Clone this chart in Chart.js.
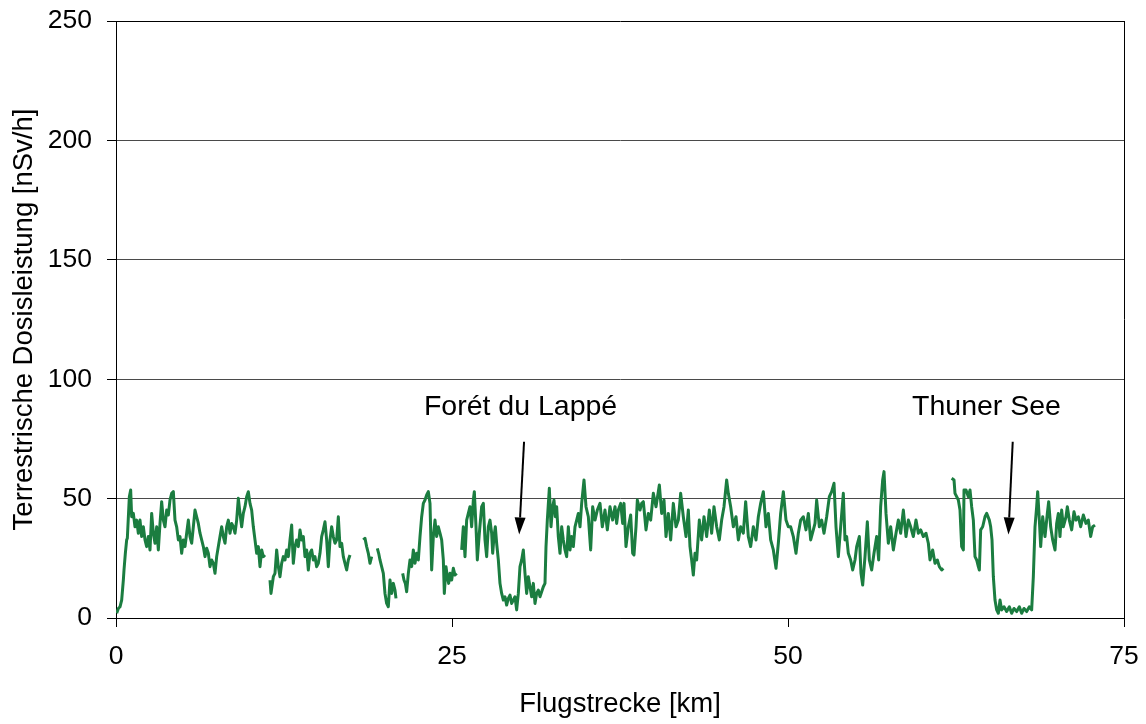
<!DOCTYPE html>
<html>
<head>
<meta charset="utf-8">
<script src="https://cdn.jsdelivr.net/npm/chart.js@4/dist/chart.umd.min.js"></script>
<style>
html,body{margin:0;padding:0;background:#fff;}
#wrap{width:1146px;height:724px;}
</style>
</head>
<body>
<div id="wrap"><canvas id="c" width="1146" height="724"></canvas></div>
<script>
// Flight distance [km] and terrestrial dose rate [nSv/h]; null = gap in the record
const km = [
0.05,0.174,0.298,0.422,0.546,0.596,0.695,0.794,0.844,0.993,1.092,1.166,1.290,1.414,1.538,1.662,1.786,1.910,2.034,2.158,2.282,2.406,2.530,2.654,2.778,2.902,3.026,3.150,3.274,3.398,3.522,3.646,3.770,3.894,4.018,4.142,4.266,4.390,4.514,4.638,4.762,4.886,5.010,5.134,5.258,5.382,5.506,5.630,5.754,5.878,6.002,6.126,6.250,6.374,6.498,6.622,6.746,6.870,6.994,7.118,7.242,7.366,7.490,7.614,7.738,7.862,7.986,8.110,8.234,8.358,8.482,8.606,8.730,8.854,8.978,9.102,9.226,9.350,9.474,9.598,9.722,9.846,9.970,10.094,10.218,10.342,10.466,10.590,10.714,10.838,10.962,11.086,
11.27,
11.459,11.533,11.707,11.830,11.954,12.078,12.202,12.326,12.450,12.574,12.698,12.822,12.946,13.070,13.194,13.318,13.442,13.566,13.690,13.814,13.938,14.062,14.186,14.310,14.434,14.558,14.682,14.806,14.930,15.054,15.178,15.302,15.426,15.550,15.674,15.798,15.922,16.046,16.170,16.294,16.418,16.542,16.666,16.790,16.914,17.038,17.162,17.286,17.410,
17.9,
18.402,18.526,18.650,18.774,18.898,19.022,
19.23,
19.444,19.543,19.642,19.766,19.890,20.014,20.138,20.262,20.386,20.510,20.634,20.758,20.833,
21.08,
21.329,21.428,21.527,21.627,21.751,21.875,21.999,22.123,22.247,22.371,22.495,22.619,22.743,22.867,22.991,23.115,23.239,23.363,23.487,23.611,23.735,23.859,23.983,24.107,24.231,24.355,24.429,24.553,24.653,24.752,24.851,24.975,25.099,25.223,25.347,
25.53,
25.719,25.843,25.967,26.091,26.215,26.339,26.463,26.587,26.662,26.786,26.885,27.034,27.207,27.331,27.455,27.579,27.703,27.827,27.951,28.026,28.125,28.224,28.323,28.447,28.571,28.695,28.819,28.943,29.067,29.191,29.315,29.439,29.563,29.687,29.811,29.935,30.059,30.183,30.307,30.431,30.555,30.679,30.803,30.927,31.051,31.175,31.299,31.423,31.547,31.671,31.795,31.919,31.994,32.093,32.242,32.366,32.490,32.589,32.688,32.788,32.911,33.036,33.160,33.284,33.407,33.532,33.656,33.780,33.904,34.028,34.152,34.276,34.400,34.524,34.648,34.821,34.970,35.144,35.317,35.466,35.640,35.813,36.012,36.185,36.384,36.557,36.756,36.954,37.128,37.252,37.376,37.550,37.698,37.798,37.946,38.120,38.294,38.442,38.542,38.690,38.790,38.988,39.112,39.236,39.435,39.608,39.782,39.980,40.179,40.427,40.600,40.774,40.923,41.096,41.270,41.468,41.667,41.840,42.014,42.212,42.411,42.584,42.708,42.832,42.956,43.080,43.204,43.403,43.576,43.750,43.948,44.147,44.320,44.494,44.692,44.891,45.064,45.238,45.436,45.560,45.734,45.933,46.131,46.305,46.478,46.676,46.850,47.048,47.222,47.421,47.619,47.793,47.966,48.165,48.363,48.537,48.710,48.909,49.107,49.281,49.454,49.653,49.851,50.025,50.199,50.397,50.595,50.769,50.943,51.141,51.339,51.513,51.687,51.885,52.009,52.133,52.332,52.505,52.679,52.877,53.076,53.249,53.423,53.572,53.745,53.919,54.117,54.241,54.365,54.489,54.663,54.812,54.985,55.109,55.308,55.432,55.556,55.729,55.903,56.052,56.225,56.399,56.597,56.746,56.895,57.044,57.143,57.292,57.466,57.639,57.838,58.036,58.210,58.383,58.582,58.780,58.954,59.127,59.326,59.524,59.698,59.871,60.070,60.268,60.442,60.566,60.764,60.938,61.111,61.260,61.434,61.558,
61.87,
62.178,62.352,62.426,62.550,62.674,62.798,62.922,63.046,63.096,63.244,63.418,63.542,63.666,63.790,63.914,64.038,64.162,64.237,64.336,64.485,64.658,64.782,64.981,65.080,65.179,65.278,65.402,65.526,65.650,65.774,65.898,66.072,66.270,66.469,66.642,66.816,67.014,67.213,67.386,67.560,67.758,67.957,68.130,68.254,68.378,68.502,68.577,68.701,68.800,68.949,69.122,69.296,69.395,69.544,69.693,69.867,69.990,70.115,70.238,70.363,70.486,70.685,70.784,70.933,71.107,71.280,71.429,71.603,71.776,71.974,72.173,72.346,72.520,72.669,72.842
];
const dose = [
2.0,4.0,4.7,7.5,15.9,20.1,27.1,32.7,33.4,50.8,53.6,42.4,43.8,38.2,41.0,35.5,41.0,34.1,38.2,32.7,29.9,34.1,28.5,43.8,35.5,31.3,38.2,28.5,39.6,48.7,41.0,38.2,45.2,43.1,49.4,52.2,52.9,41.0,38.2,32.7,34.1,27.1,32.7,29.9,35.5,41.0,34.1,31.3,38.2,45.2,42.4,39.6,35.5,32.7,29.9,25.7,29.2,27.1,21.5,24.3,22.9,18.7,25.7,29.9,34.1,38.2,34.1,31.3,38.2,41.0,35.5,39.6,38.2,35.5,41.0,50.1,43.8,38.2,43.8,46.6,50.8,52.9,48.0,45.2,38.2,32.7,27.1,29.9,21.5,28.5,25.7,26.4,
null,
15.9,10.3,17.3,18.7,28.5,21.5,17.3,22.9,25.7,24.3,28.5,25.7,32.7,38.9,22.9,29.9,32.7,29.9,36.9,32.7,34.1,25.7,28.5,20.1,27.1,28.5,24.3,25.7,21.5,22.9,27.1,34.1,36.9,40.3,32.7,21.5,32.7,38.2,34.1,31.3,32.7,42.4,29.9,31.3,25.7,22.9,20.1,24.3,26.4,
null,
32.7,33.4,29.9,27.1,22.9,25.7,
null,
29.2,27.1,24.3,21.5,18.7,10.3,6.1,4.7,15.9,10.3,14.5,11.7,8.2,
null,
18.7,15.9,14.5,11.0,18.7,24.3,21.5,28.5,22.9,27.1,24.3,34.1,42.4,48.0,49.4,51.5,52.9,48.0,20.1,34.1,41.0,34.1,38.2,35.5,32.7,24.3,10.3,21.5,17.3,14.5,18.7,15.9,20.8,18.0,18.7,
null,
28.5,38.2,25.7,41.0,43.8,46.6,38.2,49.4,52.9,38.2,24.3,35.5,46.6,48.0,32.7,25.7,38.2,41.0,35.5,27.1,34.1,38.2,31.3,24.3,14.5,10.3,7.5,8.9,5.4,8.2,9.6,6.1,7.5,8.9,3.4,10.3,21.5,24.3,28.5,18.7,10.3,17.3,13.1,8.9,14.5,6.1,10.3,11.7,8.9,11.0,13.1,14.5,29.9,41.0,54.3,38.2,46.6,49.4,42.4,46.6,34.1,27.1,38.2,32.7,28.5,25.7,38.2,28.5,34.1,29.9,38.2,41.0,43.8,38.2,48.0,57.8,46.6,42.4,28.5,46.6,41.0,45.2,48.0,38.2,45.2,36.9,46.6,41.0,46.6,39.6,45.2,48.0,39.6,48.0,29.9,38.2,43.1,27.1,26.4,38.2,49.4,45.2,48.0,48.7,36.9,43.8,41.0,52.2,46.6,55.7,43.8,49.4,34.1,43.8,32.7,48.0,38.2,41.0,52.2,42.4,34.1,45.2,29.9,24.3,18.0,27.1,24.3,41.0,32.7,42.4,34.1,45.2,35.5,46.6,38.2,32.7,41.0,46.6,57.8,52.2,46.6,38.2,42.4,32.7,38.2,35.5,48.7,34.1,29.9,38.2,32.7,42.4,48.0,52.9,38.2,43.8,32.7,28.5,20.8,31.3,43.8,52.9,41.0,38.2,38.2,34.1,27.1,35.5,41.0,42.4,36.9,43.8,32.7,36.9,39.6,49.4,38.2,41.0,35.5,42.4,50.8,52.9,56.4,38.2,25.7,38.2,52.2,32.7,34.1,27.1,24.3,20.1,24.3,29.9,34.1,18.7,13.8,25.7,40.3,24.3,20.1,27.1,34.1,24.3,46.6,57.8,61.3,43.8,31.3,38.2,28.5,35.5,41.0,35.5,45.2,34.1,41.0,38.2,34.1,41.0,35.5,36.9,34.1,35.5,31.3,24.3,28.5,22.9,24.3,21.5,20.1,20.8,
null,
58.5,57.8,52.2,50.8,49.4,45.2,29.9,28.5,53.6,53.6,50.8,53.6,46.6,41.0,25.7,24.3,21.5,20.1,36.9,38.2,42.4,43.8,41.0,38.2,32.7,17.3,7.5,3.4,2.0,7.5,3.4,4.7,2.7,4.7,2.0,4.0,2.7,4.7,2.0,4.0,2.7,4.7,3.4,17.3,38.2,46.6,52.9,41.0,29.9,42.4,34.1,43.8,48.7,38.2,32.7,28.5,39.6,43.8,34.1,45.2,38.2,42.4,46.6,41.0,36.9,44.5,41.0,42.4,38.2,43.1,39.6,41.0,34.1,38.2,38.9
];
const xTicks = [0, 25, 50, 75];
const yTicks = [0, 50, 100, 150, 200, 250];
const xTitle = 'Flugstrecke [km]';
const yTitle = 'Terrestrische Dosisleistung [nSv/h]';
const siteNames = ['Forét du Lappé', 'Thuner See'];
const siteLabelKm = [30.1, 64.77];
const siteArrowTopKm = [30.36, 66.72];
const siteArrowTipKm = [30.0, 66.4];

const FONT = '"Liberation Sans", Arial, Helvetica, sans-serif';
const points = km.map((x, i) => ({x: x, y: dose[i]}));

function noPad(s) { s.paddingTop = 0; s.paddingBottom = 0; s.paddingLeft = 0; s.paddingRight = 0; }

const framePlugin = {
  id: 'frame',
  afterDraw(chart) {
    const {ctx, chartArea: a} = chart;
    ctx.save();
    ctx.strokeStyle = '#000';
    ctx.lineWidth = 1;
    ctx.beginPath();
    ctx.moveTo(Math.round(a.right) + 0.5, a.top);
    ctx.lineTo(Math.round(a.right) + 0.5, a.bottom);
    ctx.stroke();
    ctx.restore();
  }
};

const sitePlugin = {
  id: 'sites',
  afterDatasetsDraw(chart) {
    const {ctx} = chart;
    const xs = chart.scales.x, ys = chart.scales.y;
    ctx.save();
    ctx.fillStyle = '#000';
    ctx.strokeStyle = '#000';
    ctx.font = '28.5px ' + FONT;
    ctx.textAlign = 'center';
    ctx.textBaseline = 'alphabetic';
    siteNames.forEach((name, i) => {
      ctx.fillText(name, xs.getPixelForValue(siteLabelKm[i]), ys.getPixelForValue(85));
      const x1 = xs.getPixelForValue(siteArrowTopKm[i]), y1 = ys.getPixelForValue(73.8);
      const x2 = xs.getPixelForValue(siteArrowTipKm[i]), y2 = ys.getPixelForValue(35);
      const ang = Math.atan2(y2 - y1, x2 - x1);
      const hl = 17, hw = 5.5;
      const bx = x2 - hl * Math.cos(ang), by = y2 - hl * Math.sin(ang);
      ctx.lineWidth = 2;
      ctx.beginPath();
      ctx.moveTo(x1, y1);
      ctx.lineTo(bx, by);
      ctx.stroke();
      ctx.beginPath();
      ctx.moveTo(x2, y2);
      ctx.lineTo(bx + hw * Math.sin(ang), by - hw * Math.cos(ang));
      ctx.lineTo(bx - hw * Math.sin(ang), by + hw * Math.cos(ang));
      ctx.closePath();
      ctx.fill();
    });
    ctx.restore();
  }
};

new Chart(document.getElementById('c'), {
  type: 'line',
  data: {
    datasets: [{
      data: points,
      borderColor: '#1b7d40',
      borderWidth: 3,
      pointRadius: 0,
      tension: 0,
      spanGaps: false,
      fill: false,
      borderJoinStyle: 'round'
    }]
  },
  options: {
    responsive: false,
    devicePixelRatio: 1,
    animation: false,
    layout: {padding: {top: 21, right: 22, left: 0, bottom: 0}},
    plugins: {legend: {display: false}, tooltip: {enabled: false}},
    scales: {
      x: {
        type: 'linear', min: 0, max: 75,
        afterBuildTicks: s => { s.ticks = xTicks.map(v => ({value: v})); },
        afterFit: s => { s.height = 106; noPad(s); },
        grid: {drawOnChartArea: false, drawTicks: true, tickLength: 9, tickColor: '#000', tickWidth: 1},
        border: {display: true, color: '#000', width: 1},
        ticks: {color: '#000', font: {family: FONT, size: 26.5}, padding: 14, maxRotation: 0, autoSkip: false},
        title: {display: true, text: xTitle, color: '#000', font: {family: FONT, size: 27.5}, padding: {top: 0, bottom: 3}}
      },
      y: {
        type: 'linear', min: 0, max: 250,
        afterBuildTicks: s => { s.ticks = yTicks.map(v => ({value: v})); },
        afterFit: s => { s.width = 116; noPad(s); },
        grid: {
          color: c => (c.tick && (c.tick.value === 250 || c.tick.value === 0)) ? '#000' : '#4a4a4a',
          lineWidth: 1, drawTicks: true, tickLength: 9, tickColor: '#000', tickWidth: 1
        },
        border: {display: true, color: '#000', width: 1},
        ticks: {color: '#000', font: {family: FONT, size: 26.5}, padding: 15},
        title: {display: true, text: yTitle, color: '#000', font: {family: FONT, size: 27.5}, padding: {top: 8, bottom: 0}}
      }
    }
  },
  plugins: [framePlugin, sitePlugin]
});
</script>
</body>
</html>
